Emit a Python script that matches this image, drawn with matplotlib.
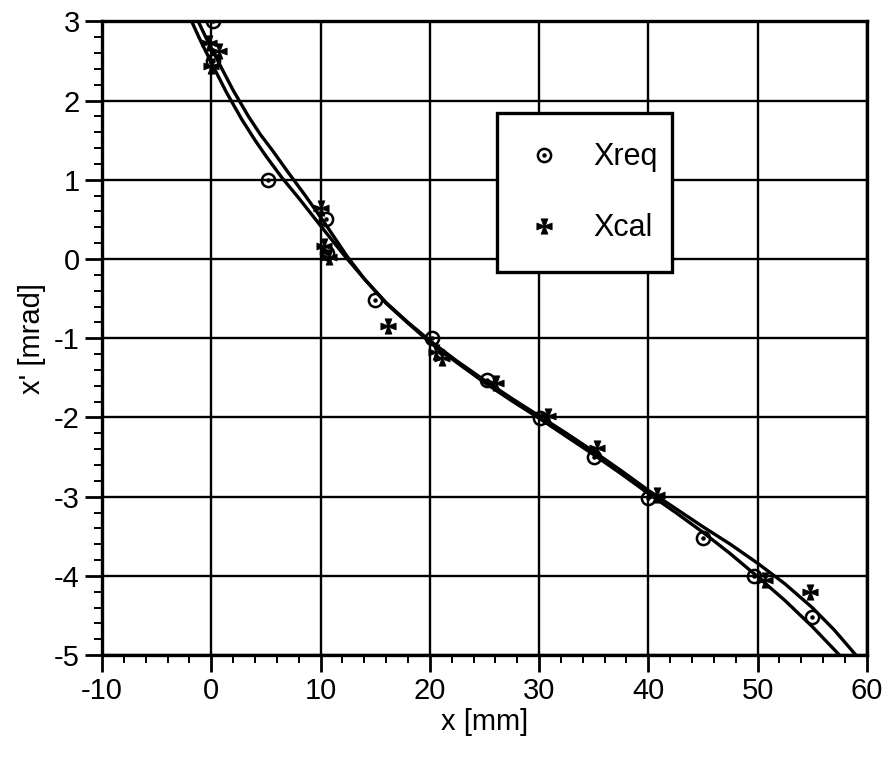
import numpy as np
import matplotlib
matplotlib.use("Agg")
import matplotlib.pyplot as plt
from matplotlib.ticker import MultipleLocator
from matplotlib.legend_handler import HandlerTuple

plt.rcParams['font.family'] = ['Liberation Sans', 'DejaVu Sans']
plt.rcParams['axes.unicode_minus'] = False

# requested points (circles)
xreq_x = [0.2, 0.2, 5.2, 10.5, 10.6, 15.0, 20.2, 25.2, 30.1, 35.0, 40.0, 45.0, 49.7, 55.0]
xreq_y = [3.0, 2.5, 1.0, 0.5, 0.08, -0.52, -1.0, -1.53, -2.01, -2.5, -3.02, -3.52, -4.0, -4.52]

# calculated points (crosses)
xcal_x = [-0.2, 0.7, 0.0, 10.0, 10.3, 10.8, 16.2, 20.6, 21.1, 26.1, 30.8, 35.3, 40.8, 50.7, 54.8]
xcal_y = [2.72, 2.63, 2.43, 0.64, 0.17, 0.03, -0.84, -1.18, -1.25, -1.57, -1.98, -2.39, -2.98, -4.05, -4.2]

# two fitted curves
fit1_x = [-1.8, -1.0, 0.0, 1.4, 2.8, 4.0, 5.0, 6.5, 8.0, 10.0, 12.2, 14.0, 16.0, 18.0, 20.0, 22.5,
          25.0, 27.5, 30.0, 32.5, 35.0, 37.5, 40.0, 42.5, 45.0, 47.5, 50.0, 52.5, 55.0, 57.5]
fit1_y = [3.0, 2.76, 2.48, 2.1, 1.76, 1.5, 1.3, 1.02, 0.77, 0.42, 0.04, -0.25, -0.56, -0.81, -1.05, -1.31,
          -1.56, -1.79, -2.01, -2.24, -2.47, -2.71, -2.96, -3.2, -3.45, -3.72, -4.01, -4.31, -4.64, -5.0]
fit2_x = [-1.2, -0.4, 0.6, 2.0, 3.4, 4.5, 5.6, 7.0, 8.5, 10.3, 12.4, 14.0, 16.0, 18.0, 20.0, 22.5,
          25.0, 27.5, 30.0, 32.5, 35.0, 37.5, 40.0, 42.5, 45.0, 47.5, 50.0, 52.5, 55.0, 57.0, 59.0]
fit2_y = [3.0, 2.77, 2.5, 2.13, 1.8, 1.57, 1.37, 1.1, 0.82, 0.47, 0.04, -0.25, -0.55, -0.8, -1.03, -1.29,
          -1.53, -1.76, -1.98, -2.2, -2.43, -2.67, -2.92, -3.15, -3.38, -3.6, -3.84, -4.1, -4.4, -4.68, -5.0]

# cross pattee marker like the one in the scan
cross = [(-0.12, 0.12), (-0.45, 1), (0.45, 1), (0.12, 0.12), (1, 0.45), (1, -0.45),
         (0.12, -0.12), (0.45, -1), (-0.45, -1), (-0.12, -0.12), (-1, -0.45), (-1, 0.45),
         (-0.12, 0.12)]

fig = plt.figure(figsize=(8.9, 7.6), dpi=100)
ax = fig.add_axes([0.1146, 0.138, 0.8594, 0.834])

ax.plot(fit1_x, fit1_y, color='black', lw=2.4, solid_capstyle='butt', zorder=3)
ax.plot(fit2_x, fit2_y, color='black', lw=2.4, solid_capstyle='butt', zorder=3)

h1, = ax.plot(xreq_x, xreq_y, ls='none', marker='o', ms=9.5, mfc='none', mec='black', mew=1.8, zorder=4)
h2, = ax.plot(xreq_x, xreq_y, ls='none', marker='o', ms=2.2, mfc='black', mec='black', zorder=4)
h3, = ax.plot(xcal_x, xcal_y, ls='none', marker=cross, ms=11, mfc='black', mec='black', mew=0.5, zorder=5)

ax.set_xlim(-10, 60)
ax.set_ylim(-5, 3)
ax.xaxis.set_major_locator(MultipleLocator(10))
ax.xaxis.set_minor_locator(MultipleLocator(2))
ax.yaxis.set_major_locator(MultipleLocator(1))
ax.yaxis.set_minor_locator(MultipleLocator(0.2))
ax.grid(True, which='major', color='black', lw=1.7)
ax.set_axisbelow(True)
for s in ax.spines.values():
    s.set_linewidth(2.4)
ax.tick_params(which='major', direction='out', length=12, width=2.0, labelsize=21, pad=4)
ax.tick_params(which='minor', direction='out', length=6, width=1.4)

ax.set_xlabel('x [mm]', fontsize=21, labelpad=2)
ax.set_ylabel("x' [mrad]", fontsize=21, labelpad=6)

leg = ax.legend([(h1, h2), h3], ['Xreq', 'Xcal'], handler_map={tuple: HandlerTuple(ndivide=1, pad=0)},
                loc='upper left', bbox_to_anchor=(0.516, 0.61, 0.229, 0.245), mode='expand',
                fontsize=22, frameon=True, fancybox=False, borderpad=0.95, labelspacing=1.35,
                handlelength=1.2, handletextpad=1.0, borderaxespad=0)
leg.get_frame().set_edgecolor('black')
leg.get_frame().set_linewidth(2.4)
leg.get_frame().set_alpha(1)

fig.savefig('out.png', dpi=100)
